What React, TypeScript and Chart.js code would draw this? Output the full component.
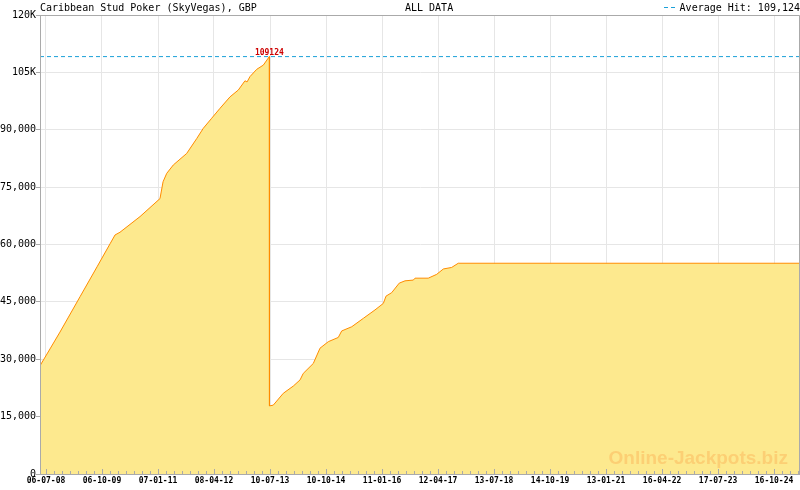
import React, { useEffect, useRef } from "react";
import { Chart, registerables } from "chart.js";

Chart.register(...registerables);

// ---- Data ----
const chartTitle = "Caribbean Stud Poker (SkyVegas), GBP";
const periodLabel = "ALL DATA";
const legendLabel = "Average Hit: 109,124";
const watermark = "Online-Jackpots.biz";

const seriesDates = [
  "2008-05-18", "2008-10-28", "2009-04-10", "2009-08-27", "2009-12-11", "2010-01-21",
  "2010-03-02", "2010-08-13", "2011-01-23", "2011-02-17", "2011-03-19",
  "2011-05-12", "2011-08-29", "2011-11-19", "2012-01-12", "2012-03-20", "2012-05-27",
  "2012-08-17", "2012-10-24", "2012-12-17", "2013-01-03", "2013-01-27", "2013-03-23",
  "2013-05-16", "2013-07-04", "2013-07-05", "2013-08-05", "2013-10-26", "2014-01-16",
  "2014-03-12", "2014-04-07", "2014-06-28", "2014-08-22", "2014-10-29", "2015-01-18",
  "2015-02-15", "2015-05-08", "2015-08-11", "2015-11-14", "2016-01-21", "2016-02-12",
  "2016-03-29", "2016-05-30", "2016-07-16", "2016-09-22", "2016-10-06", "2017-01-22",
  "2017-04-01", "2017-05-25", "2017-08-01", "2017-09-24", "2025-05-16",
];
const seriesValues = [
  28300, 37100, 46350, 54170, 60180, 62500,
  63200, 67300, 72000, 76400, 78600,
  80800, 83800, 87700, 90400, 93000, 95600,
  98600, 100400, 102800, 102500, 103900, 105800,
  106900, 109124, 17800, 18000, 21100, 23000,
  24600, 26300, 28900, 32900, 34600, 35700,
  37400, 38500, 40700, 42900, 44600, 46500,
  47400, 49900, 50500, 50700, 51200, 51200,
  52200, 53600, 54000, 55100, 55100,
];
const averageHit = 109124;
const peakLabel = "109124";

const yTickValues = [0, 15000, 30000, 45000, 60000, 75000, 90000, 105000, 120000];
const yTickLabels = ["0", "15,000", "30,000", "45,000", "60,000", "75,000", "90,000", "105K", "120K"];

const xTickDates = [
  "2008-07-06", "2009-10-06", "2011-01-07", "2012-04-08", "2013-07-10", "2014-10-10",
  "2016-01-11", "2017-04-12", "2018-07-13", "2019-10-14", "2021-01-13", "2022-04-16",
  "2023-07-17", "2024-10-16",
];

// ---- Helpers ----
const toMs = (s: string) => Date.parse(s + "T00:00:00Z");
const pad2 = (n: number) => (n < 10 ? "0" + n : "" + n);
const fmtDate = (ms: number) => {
  const d = new Date(ms);
  return pad2(d.getUTCDate()) + "-" + pad2(d.getUTCMonth() + 1) + "-" + pad2(d.getUTCFullYear() % 100);
};

const MONO = "'DejaVu Sans Mono', monospace";
const AXIS_GRAY = "#aaaaaa";
const GRID_GRAY = "#e6e6e6";
const AVG_BLUE = "#1ba0d8";

const decorPlugin = {
  id: "decor",
  beforeDraw(chart: any) {
    const { ctx, width, height } = chart;
    ctx.save();
    ctx.fillStyle = "#ffffff";
    ctx.fillRect(0, 0, width, height);
    ctx.restore();
  },
  afterDatasetsDraw(chart: any) {
    const { ctx, chartArea } = chart;
    const xs = chart.scales.x;
    const ys = chart.scales.y;
    ctx.save();
    // watermark
    ctx.font = "bold 19px 'Liberation Sans', Arial, sans-serif";
    ctx.fillStyle = "#fccf74";
    ctx.textAlign = "right";
    ctx.textBaseline = "alphabetic";
    ctx.fillText(watermark, chartArea.right - 12, 464);
    // peak label
    let peakIdx = 0;
    seriesValues.forEach((v, i) => {
      if (v > seriesValues[peakIdx]) peakIdx = i;
    });
    const px = xs.getPixelForValue(toMs(seriesDates[peakIdx]));
    const py = ys.getPixelForValue(seriesValues[peakIdx]);
    ctx.font = "bold 8px " + MONO;
    ctx.fillStyle = "#cc0000";
    ctx.textAlign = "center";
    ctx.fillText(peakLabel, px, py - 2);
    ctx.restore();
  },
  afterDraw(chart: any) {
    const { ctx, chartArea } = chart;
    const xs = chart.scales.x;
    ctx.save();
    // border
    ctx.strokeStyle = AXIS_GRAY;
    ctx.lineWidth = 1;
    ctx.beginPath();
    ctx.moveTo(chartArea.left + 0.5, chartArea.bottom + 0.5);
    ctx.lineTo(chartArea.left + 0.5, chartArea.top + 0.5);
    ctx.lineTo(chartArea.right - 0.5, chartArea.top + 0.5);
    ctx.lineTo(chartArea.right - 0.5, chartArea.bottom + 0.5);
    ctx.lineTo(chartArea.left + 0.5, chartArea.bottom + 0.5);
    ctx.stroke();
    // x ticks (major + 6 minor between)
    const majors = xTickDates.map(toMs);
    const step = (majors[1] - majors[0]) / 7;
    const tickAt = (v: number, len: number) => {
      const x = Math.round(xs.getPixelForValue(v)) + 0.5;
      if (x < chartArea.left || x > chartArea.right) return;
      ctx.beginPath();
      ctx.moveTo(x, chartArea.bottom);
      ctx.lineTo(x, chartArea.bottom - len);
      ctx.stroke();
    };
    for (let i = 0; i < majors.length; i++) {
      tickAt(majors[i], 5);
      const next = i + 1 < majors.length ? majors[i + 1] : majors[i] + 7 * step;
      const s = (next - majors[i]) / 7;
      for (let k = 1; k < 7; k++) tickAt(majors[i] + k * s, 3);
    }
    // title texts
    ctx.font = "10px " + MONO;
    ctx.fillStyle = "#000000";
    ctx.textBaseline = "alphabetic";
    ctx.textAlign = "left";
    ctx.fillText(chartTitle, chartArea.left, 11);
    ctx.fillText(periodLabel, 405, 11);
    ctx.textAlign = "right";
    ctx.fillText(legendLabel, chartArea.right, 11);
    // legend dashes
    ctx.strokeStyle = AVG_BLUE;
    ctx.setLineDash([4, 3]);
    ctx.beginPath();
    ctx.moveTo(664, 7.5);
    ctx.lineTo(678, 7.5);
    ctx.stroke();
    ctx.restore();
  },
};

export default function App() {
  const canvasRef = useRef<HTMLCanvasElement | null>(null);

  useEffect(() => {
    if (!canvasRef.current) return;
    const xMin = toMs(seriesDates[0]);
    const xMax = toMs(seriesDates[seriesDates.length - 1]);
    const mainData = seriesDates.map((d, i) => ({ x: toMs(d), y: seriesValues[i] }));
    const avgData = [
      { x: xMin, y: averageHit },
      { x: xMax, y: averageHit },
    ];

    const chart = new Chart(canvasRef.current, {
      type: "line",
      data: {
        datasets: [
          {
            label: legendLabel,
            data: avgData,
            borderColor: AVG_BLUE,
            borderWidth: 1,
            borderDash: [4, 3],
            pointRadius: 0,
            fill: false,
            order: 0,
          },
          {
            label: chartTitle,
            data: mainData,
            borderColor: "#ff8c00",
            backgroundColor: "#fde98e",
            borderWidth: 1,
            pointRadius: 0,
            tension: 0,
            fill: "origin",
            order: 1,
          },
        ],
      },
      options: {
        responsive: false,
        animation: false,
        devicePixelRatio: 1,
        layout: { padding: { top: 15, right: 0, left: 0, bottom: 0 } },
        plugins: {
          legend: { display: false },
          title: { display: false },
          tooltip: { enabled: false },
        },
        scales: {
          x: {
            type: "linear",
            min: xMin,
            max: xMax,
            afterBuildTicks: (scale: any) => {
              scale.ticks = xTickDates.map((d) => ({ value: toMs(d) }));
            },
            afterFit: (scale: any) => {
              scale.height = 16;
            },
            ticks: {
              autoSkip: false,
              maxRotation: 0,
              minRotation: 0,
              padding: 2,
              color: "#000000",
              font: { family: MONO, size: 8, weight: "bold" },
              callback: (v: any) => fmtDate(Number(v)),
            },
            grid: { color: GRID_GRAY, drawTicks: false },
            border: { color: AXIS_GRAY },
          },
          y: {
            type: "linear",
            min: 0,
            max: 120000,
            afterBuildTicks: (scale: any) => {
              scale.ticks = yTickValues.map((v) => ({ value: v }));
            },
            afterFit: (scale: any) => {
              scale.width = 40;
            },
            ticks: {
              padding: 0,
              color: "#000000",
              font: { family: MONO, size: 10 },
              callback: (v: any) => {
                const i = yTickValues.indexOf(Number(v));
                return i >= 0 ? yTickLabels[i] : "";
              },
            },
            grid: { color: GRID_GRAY, tickLength: 4, tickColor: AXIS_GRAY },
            border: { color: AXIS_GRAY },
          },
        },
      },
      plugins: [decorPlugin],
    } as any);

    return () => chart.destroy();
  }, []);

  return (
    <div style={{ position: "absolute", left: 0, top: 0, width: 800, height: 490 }}>
      <canvas ref={canvasRef} width={800} height={490} style={{ width: 800, height: 490, display: "block" }} />
    </div>
  );
}
